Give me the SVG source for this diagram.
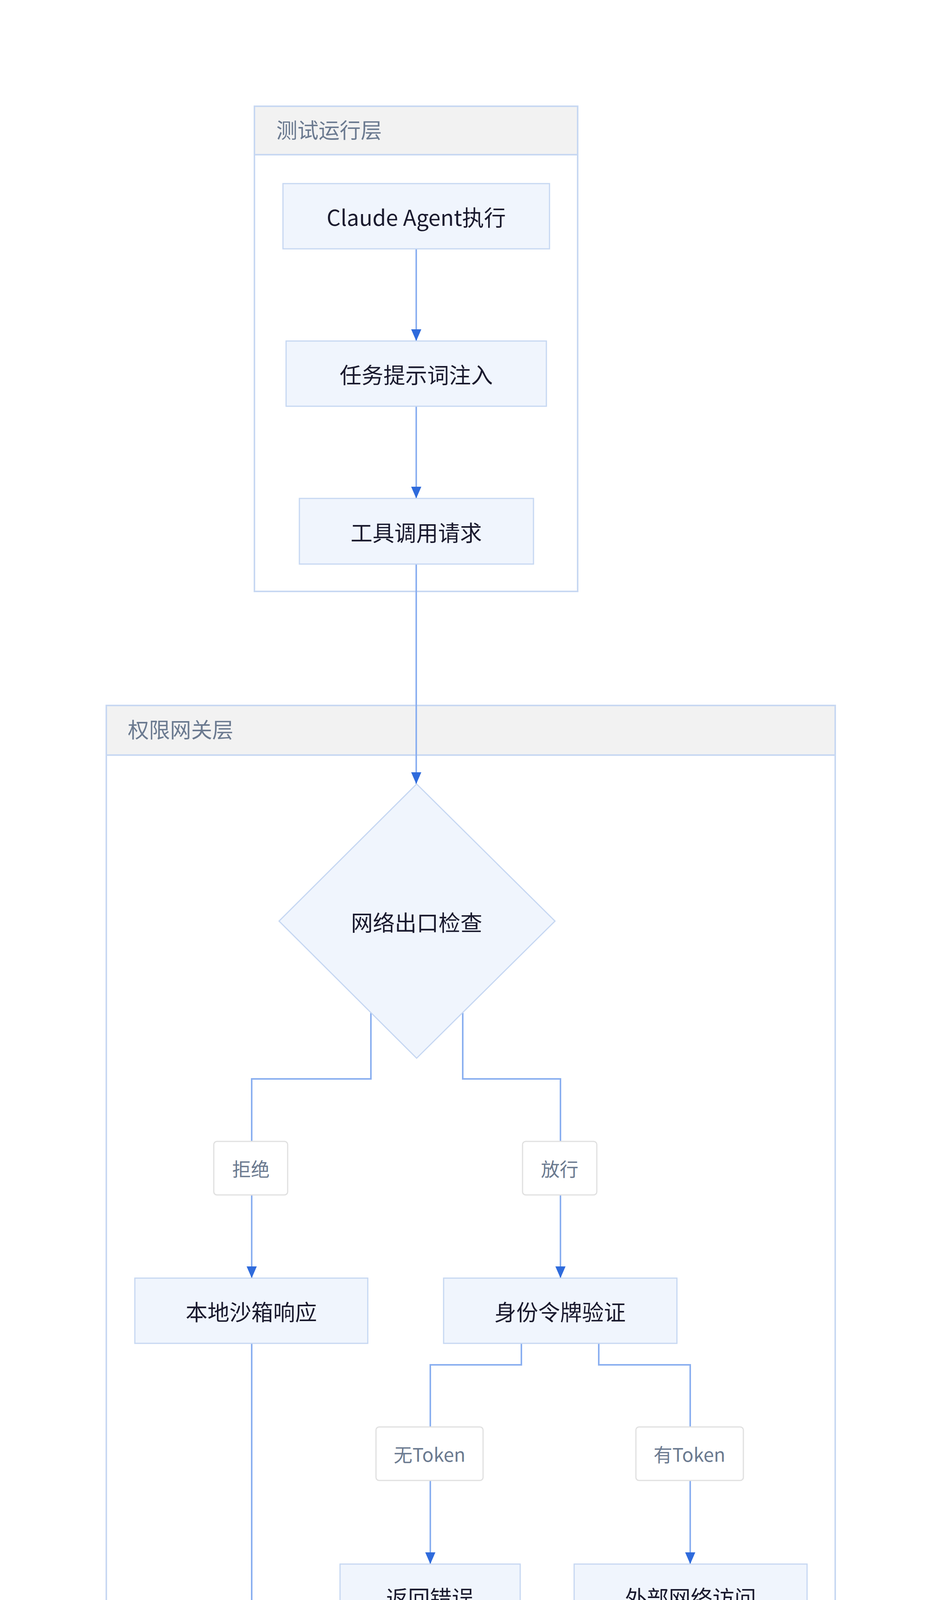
<svg xmlns="http://www.w3.org/2000/svg" width="2400" height="6454" viewBox="0 0 2400 6454">
<style>
text{font-family:"Noto Sans CJK SC","Noto Sans",sans-serif;}
.grp{fill:#ffffff;stroke:#c8d8f2;stroke-width:4;}
.hdr{fill:#f2f2f2;stroke:#c8d8f2;stroke-width:4;}
.ht{font-size:54px;fill:#6b7a90;}
.node{fill:#f0f5fd;stroke:#c6d7f2;stroke-width:3;}
.nt{font-size:56px;fill:#1a1a2e;text-anchor:middle;dominant-baseline:central;}
.lb{fill:#ffffff;stroke:#e0e0e0;stroke-width:3;}
.lt{font-size:48px;fill:#6b7a90;text-anchor:middle;dominant-baseline:central;}
.e{fill:none;stroke:#8aaff0;stroke-width:4;}
.ea{fill:none;stroke:#8aaff0;stroke-width:4;marker-end:url(#ah);}
</style>
<defs>
<marker id="ah" markerUnits="userSpaceOnUse" markerWidth="30" markerHeight="26" viewBox="0 0 30 26" refX="30" refY="13" orient="auto">
<path d="M0,0 L30,13 L0,26 Z" fill="#2f6bdc"/>
</marker>
</defs>
<rect width="2400" height="6454" fill="#ffffff"/>
<g id="group-run">
<rect class="grp" x="651" y="272" width="827" height="1242"/>
<rect class="hdr" x="651" y="272" width="827" height="124"/>
<text class="ht" x="707" y="354">测试运行层</text>
</g>
<g id="group-gateway">
<rect class="grp" x="272" y="1806" width="1865" height="2438"/>
<rect class="hdr" x="272" y="1806" width="1865" height="127"/>
<text class="ht" x="327" y="1889">权限网关层</text>
</g>
<g id="group-audit">
<rect class="grp" x="832" y="4534" width="743" height="1649"/>
<rect class="hdr" x="832" y="4534" width="743" height="127"/>
<text class="ht" x="889" y="4617">审计监控层</text>
</g>
<g id="connectors">
<path class="ea" d="M1065,637 V873"/>
<path class="ea" d="M1065,1040 V1276"/>
<path class="ea" d="M1065,1444 V2007"/>
<path class="ea" d="M949,2593 V2762 H644 V3272"/>
<path class="ea" d="M1184,2593 V2762 H1434 V3272"/>
<path class="ea" d="M1334,3439 V3494 H1101 V4004"/>
<path class="ea" d="M1532,3439 V3494 H1766 V4004"/>
<path class="ea" d="M644,3439 V4452 H1202 V4734"/>
<path class="e" d="M1101,4171 V4452 H1202"/>
<path class="e" d="M1766,4171 V4452 H1202"/>
<path class="ea" d="M1202,4901 V5137"/>
<path class="ea" d="M1202,5304 V5541"/>
<path class="ea" d="M1202,5708 V5944"/>
</g>
<g id="n-claude"><rect class="node" x="724" y="470" width="682" height="167"/><text class="nt" x="1065" y="553">Claude Agent执行</text></g>
<g id="n-prompt"><rect class="node" x="732" y="873" width="666" height="167"/><text class="nt" x="1065" y="956">任务提示词注入</text></g>
<g id="n-tool"><rect class="node" x="766" y="1276" width="599" height="168"/><text class="nt" x="1065" y="1360">工具调用请求</text></g>
<g id="n-check"><polygon class="node" points="1066,2007 1420,2358 1066,2709 714,2358"/><text class="nt" x="1066" y="2358">网络出口检查</text></g>
<g id="l-deny"><rect class="lb" x="547" y="2922" width="189" height="137" rx="8"/><text class="lt" x="642" y="2990">拒绝</text></g>
<g id="l-allow"><rect class="lb" x="1337" y="2922" width="190" height="137" rx="8"/><text class="lt" x="1432" y="2990">放行</text></g>
<g id="n-sandbox"><rect class="node" x="345" y="3272" width="596" height="167"/><text class="nt" x="643" y="3355">本地沙箱响应</text></g>
<g id="n-token"><rect class="node" x="1135" y="3272" width="597" height="167"/><text class="nt" x="1433" y="3355">身份令牌验证</text></g>
<g id="l-notoken"><rect class="lb" x="962" y="3653" width="274" height="137" rx="8"/><text class="lt" x="1099" y="3721">无Token</text></g>
<g id="l-hastoken"><rect class="lb" x="1627" y="3653" width="275" height="137" rx="8"/><text class="lt" x="1764" y="3721">有Token</text></g>
<g id="n-error"><rect class="node" x="870" y="4004" width="461" height="167"/><text class="nt" x="1100" y="4087">返回错误</text></g>
<g id="n-external"><rect class="node" x="1469" y="4004" width="596" height="167"/><text class="nt" x="1767" y="4087">外部网络访问</text></g>
<g id="n-log"><rect class="node" x="971" y="4734" width="463" height="167"/><text class="nt" x="1202" y="4817">请求日志</text></g>
<g id="n-detect"><rect class="node" x="903" y="5137" width="598" height="167"/><text class="nt" x="1202" y="5220">实时异常检测</text></g>
<g id="n-alert"><rect class="node" x="971" y="5541" width="463" height="167"/><text class="nt" x="1202" y="5624">阈值告警</text></g>
<g id="n-break"><rect class="node" x="971" y="5944" width="463" height="167"/><text class="nt" x="1202" y="6027">自动熔断</text></g>
</svg>
